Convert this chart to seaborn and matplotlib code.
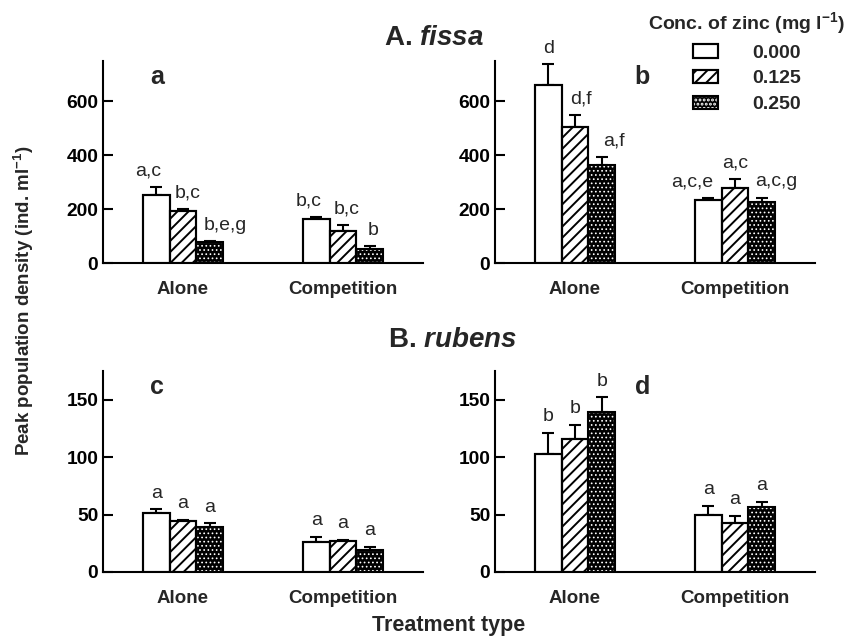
import matplotlib
matplotlib.use("Agg")
import matplotlib.pyplot as plt
from matplotlib.container import BarContainer
from matplotlib.patches import Rectangle
from matplotlib.legend_handler import HandlerTuple
import seaborn as sns
import pandas as pd
import numpy as np

# ---------------- data ----------------
treatments = ["Alone", "Competition"]
concs = ["0.000", "0.125", "0.250"]

# order: Alone (0.000, 0.125, 0.250), Competition (0.000, 0.125, 0.250)
a_means = [252, 193, 76, 163, 117, 53]
a_err = [28, 8, 4, 6, 22, 9]
a_letters = ["a,c", "b,c", "b,e,g", "b,c", "b,c", "b"]

b_means = [659, 502, 364, 233, 278, 227]
b_err = [78, 47, 28, 6, 32, 14]
b_letters = ["d", "d,f", "a,f", "a,c,e", "a,c", "a,c,g"]

c_means = [51.6, 44.4, 39.5, 26.2, 27.4, 19.0]
c_err = [3, 1, 3, 4.6, 0.5, 3]
c_letters = ["a", "a", "a", "a", "a", "a"]

d_means = [102.4, 115.4, 139.3, 49.6, 43.0, 56.5]
d_err = [19, 13, 12.7, 8, 6, 4.6]
d_letters = ["b", "b", "b", "a", "a", "a"]

panel_letters = ["a", "b", "c", "d"]
yticks_top = [0, 200, 400, 600]
yticks_bottom = [0, 50, 100, 150]

# horizontal nudges (pixels) of the significance letters, to avoid overlaps
a_label_dx = [-8, 5, 16, -8, 4, 3]
b_label_dx = [0, 6, 12, -16, 0, 15]
c_label_dx = [0, 0, 0, 0, 0, 0]
d_label_dx = [0, 0, 0, 0, 0, 0]

# ---------------- style ----------------
sns.set_theme(style="white")
plt.rcParams["font.family"] = ["Liberation Sans", "DejaVu Sans"]
plt.rcParams["mathtext.fontset"] = "custom"
plt.rcParams["mathtext.rm"] = "Liberation Sans:bold"
plt.rcParams["mathtext.it"] = "Liberation Sans:bold:italic"
plt.rcParams["mathtext.bf"] = "Liberation Sans:bold"
plt.rcParams["hatch.linewidth"] = 1.4

W, H = 856, 640
fig = plt.figure(figsize=(W / 100, H / 100), dpi=100)


def ax_rect(left, top, right, bottom):
    return [left / W, 1 - bottom / H, (right - left) / W, (bottom - top) / H]


axes = [
    fig.add_axes(ax_rect(103, 60.5, 423, 263)),
    fig.add_axes(ax_rect(495, 60.5, 815, 263)),
    fig.add_axes(ax_rect(103, 371, 423, 572)),
    fig.add_axes(ax_rect(495, 371, 815, 572)),
]

panels = [
    (a_means, a_err, a_letters, a_label_dx, (0, 750), yticks_top),
    (b_means, b_err, b_letters, b_label_dx, (0, 750), yticks_top),
    (c_means, c_err, c_letters, c_label_dx, (0, 175), yticks_bottom),
    (d_means, d_err, d_letters, d_label_dx, (0, 175), yticks_bottom),
]


def style_bar(bar, level):
    """Apply fill pattern for a concentration level."""
    if level == 0:
        bar.set_facecolor("white")
        bar.set_hatch("")
        bar.set_edgecolor("black")
    elif level == 1:
        bar.set_facecolor("white")
        bar.set_hatch("///")
        bar.set_edgecolor("black")
    else:
        bar.set_facecolor("black")
        bar.set_hatch("....")
        bar.set_edgecolor("white")  # hatch colour follows edge colour
        if hasattr(bar, "set_hatch_linewidth"):
            bar.set_hatch_linewidth(0.7)


for k, (ax, (means, errs, letters, ldx, ylim, yt)) in enumerate(zip(axes, panels)):
    rows = []
    for ti, t in enumerate(treatments):
        for ci, c in enumerate(concs):
            rows.append({"Treatment": t, "Conc": c, "Density": means[ti * 3 + ci]})
    df = pd.DataFrame(rows)
    sns.barplot(data=df, x="Treatment", y="Density", hue="Conc",
                order=treatments, hue_order=concs,
                palette=["white"] * 3, edgecolor="black", linewidth=1.5,
                width=0.5, gap=0, errorbar=None, legend=False, ax=ax,
                saturation=1)
    bar_conts = [c for c in ax.containers if isinstance(c, BarContainer)]
    for hi, cont in enumerate(bar_conts):
        for bar in cont.patches:
            style_bar(bar, hi)
            bar.set_zorder(3)
            # black outline drawn on top (needed for the dotted bars)
            ax.add_patch(Rectangle(bar.get_xy(), bar.get_width(), bar.get_height(),
                                   fill=False, edgecolor="black", linewidth=1.5,
                                   zorder=4))
            xc = bar.get_x() + bar.get_width() / 2
            ti = int(round(xc))
            idx = ti * 3 + hi
            top = bar.get_height()
            ax.errorbar([xc], [top], yerr=[[0], [errs[idx]]], fmt="none",
                        ecolor="black", elinewidth=1.5, capsize=4,
                        capthick=1.5, zorder=2, clip_on=False)
            ax.annotate(letters[idx], xy=(xc, top + errs[idx]),
                        xytext=(ldx[idx], 16), textcoords="offset pixels",
                        ha="center", va="center", fontsize=14,
                        annotation_clip=False)

    ax.set_xlim(-0.5, 1.5)
    ax.set_ylim(*ylim)
    ax.set_yticks(yt)
    ax.set_xlabel("")
    ax.set_ylabel("")
    sns.despine(ax=ax)
    for s in ["left", "bottom"]:
        ax.spines[s].set_linewidth(1.5)
        ax.spines[s].set_color("black")
    ax.tick_params(axis="y", direction="in", length=7.5, width=1.5,
                   pad=3.5, labelsize=13.8, colors="black", left=True)
    ax.tick_params(axis="x", length=0, pad=13, labelsize=13.5)
    for lab in ax.get_yticklabels() + ax.get_xticklabels():
        lab.set_fontweight("bold")

    lx = 0.17 if k in (0, 2) else 0.46
    ax.text(lx, 0.92, panel_letters[k], transform=ax.transAxes,
            fontsize=18, fontweight="bold", ha="center", va="center")

# legend handles built like the bars (fill + black outline, overlaid)
legend_handles = []
for hi in range(3):
    p = Rectangle((0, 0), 1, 1, linewidth=1.5)
    style_bar(p, hi)
    outline = Rectangle((0, 0), 1, 1, fill=False, edgecolor="black", linewidth=1.5)
    legend_handles.append((p, outline))

# titles
fig.text(434 / W, 1 - 38 / H, r"A. $\mathit{fissa}$", fontsize=20,
         fontweight="bold", ha="center", va="center")
fig.text(453 / W, 1 - 340 / H, r"B. $\mathit{rubens}$", fontsize=20,
         fontweight="bold", ha="center", va="center")

# axis labels
fig.text(24 / W, 1 - 301 / H, r"Peak population density (ind. ml$^{-1}$)",
         rotation=90, fontsize=13.5, fontweight="bold", ha="center", va="center")
fig.text(449 / W, 1 - 625 / H, "Treatment type", fontsize=15.5,
         fontweight="bold", ha="center", va="center")

# legend
leg = fig.legend(legend_handles, concs, title=r"Conc. of zinc (mg l$^{-1}$)",
                 handler_map={tuple: HandlerTuple(ndivide=1, pad=0)},
                 loc="upper left", bbox_to_anchor=(648 / W, 1 - 10 / H),
                 frameon=False, fontsize=14, title_fontsize=14,
                 handlelength=1.3, handleheight=0.7, handletextpad=1.75,
                 labelspacing=0.42, borderpad=0, borderaxespad=0)
leg.get_title().set_fontweight("bold")
for t in leg.get_texts():
    t.set_fontweight("bold")

fig.savefig("out.png", dpi=100)
